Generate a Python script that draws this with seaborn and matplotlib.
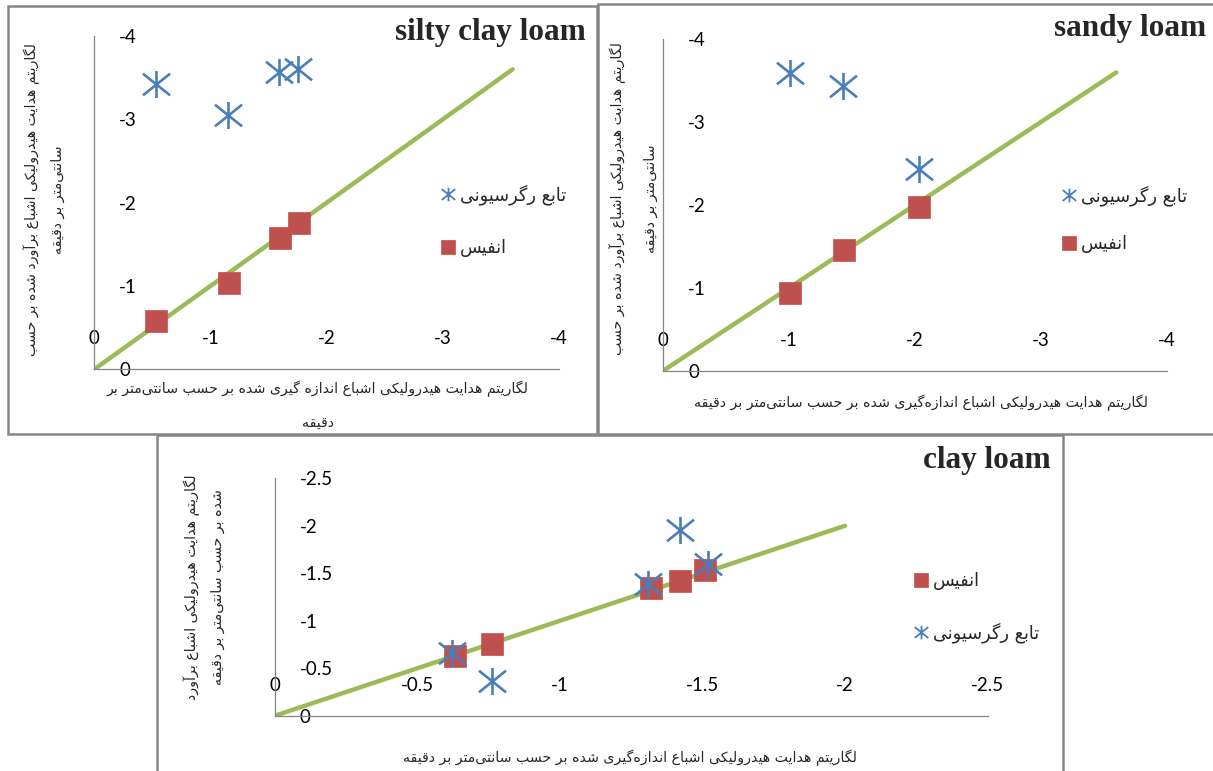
import matplotlib
matplotlib.use("Agg")
import matplotlib.pyplot as plt
import seaborn as sns
from matplotlib.path import Path
from matplotlib.patches import Rectangle

# ------------------------------------------------------------------ data
# silty clay loam
scl_anfis_x = [-0.53, -1.16, -1.60, -1.76]
scl_anfis_y = [-0.58, -1.04, -1.58, -1.75]
scl_reg_x = [-0.53, -1.15, -1.59, -1.75]
scl_reg_y = [-3.42, -3.05, -3.57, -3.60]
scl_line_x = [0.0, -3.6]
scl_line_y = [0.0, -3.6]

# sandy loam
sl_anfis_x = [-1.01, -1.44, -2.03]
sl_anfis_y = [-0.94, -1.46, -1.97]
sl_reg_x = [-1.01, -1.43, -2.03]
sl_reg_y = [-3.59, -3.44, -2.44]
sl_line_x = [0.0, -3.6]
sl_line_y = [0.0, -3.6]

# clay loam
cl_anfis_x = [-0.63, -0.76, -1.32, -1.42, -1.51]
cl_anfis_y = [-0.63, -0.76, -1.34, -1.42, -1.53]
cl_reg_x = [-0.62, -0.76, -1.31, -1.42, -1.52]
cl_reg_y = [-0.66, -0.37, -1.39, -1.96, -1.60]
cl_line_x = [0.0, -2.0]
cl_line_y = [0.0, -2.0]

ticks_4 = [0, -1, -2, -3, -4]
tick_labels_4 = ["0", "-1", "-2", "-3", "-4"]
ticks_25 = [0, -0.5, -1, -1.5, -2, -2.5]
tick_labels_25 = ["0", "-0.5", "-1", "-1.5", "-2", "-2.5"]

titles = ["silty clay loam", "sandy loam", "clay loam"]
label_anfis = "انفیس"
label_reg = "تابع رگرسیونی"
ylab_1 = "لگاریتم هدایت هیدرولیکی اشباع برآورد شده بر حسب\nسانتی\u200cمتر بر دقیقه"
xlab_1 = "لگاریتم هدایت هیدرولیکی اشباع اندازه گیری شده بر حسب سانتی\u200cمتر بر\nدقیقه"
ylab_2 = "لگاریتم هدایت هیدرولیکی اشباع برآورد شده بر حسب\nسانتی\u200cمتر بر دقیقه"
xlab_2 = "لگاریتم هدایت هیدرولیکی اشباع اندازه\u200cگیری شده بر حسب سانتی\u200cمتر بر دقیقه"
ylab_3 = "لگاریتم هدایت هیدرولیکی اشباع برآورد\nشده بر حسب سانتی\u200cمتر بر دقیقه"
xlab_3 = "لگاریتم هدایت هیدرولیکی اشباع اندازه\u200cگیری شده بر حسب سانتی\u200cمتر بر دقیقه"

# ------------------------------------------------- Persian shaping (RTL)
FORMS = {
    '\u0627': ('\uFE8D', '\uFE8E', None, None),
    '\u0622': ('\uFE81', '\uFE82', None, None),
    '\u0628': ('\uFE8F', '\uFE90', '\uFE91', '\uFE92'),
    '\u067E': ('\uFB56', '\uFB57', '\uFB58', '\uFB59'),
    '\u062A': ('\uFE95', '\uFE96', '\uFE97', '\uFE98'),
    '\u062D': ('\uFEA1', '\uFEA2', '\uFEA3', '\uFEA4'),
    '\u062F': ('\uFEA9', '\uFEAA', None, None),
    '\u0631': ('\uFEAD', '\uFEAE', None, None),
    '\u0632': ('\uFEAF', '\uFEB0', None, None),
    '\u0633': ('\uFEB1', '\uFEB2', '\uFEB3', '\uFEB4'),
    '\u0634': ('\uFEB5', '\uFEB6', '\uFEB7', '\uFEB8'),
    '\u0639': ('\uFEC9', '\uFECA', '\uFECB', '\uFECC'),
    '\u0641': ('\uFED1', '\uFED2', '\uFED3', '\uFED4'),
    '\u0642': ('\uFED5', '\uFED6', '\uFED7', '\uFED8'),
    '\u0643': ('\uFED9', '\uFEDA', '\uFEDB', '\uFEDC'),
    '\u0644': ('\uFEDD', '\uFEDE', '\uFEDF', '\uFEE0'),
    '\u0645': ('\uFEE1', '\uFEE2', '\uFEE3', '\uFEE4'),
    '\u0646': ('\uFEE5', '\uFEE6', '\uFEE7', '\uFEE8'),
    '\u0647': ('\uFEE9', '\uFEEA', '\uFEEB', '\uFEEC'),
    '\u0648': ('\uFEED', '\uFEEE', None, None),
    '\u064A': ('\uFEF1', '\uFEF2', '\uFEF3', '\uFEF4'),
    '\u06A9': ('\uFB8E', '\uFB8F', '\uFB90', '\uFB91'),
    '\u06AF': ('\uFB92', '\uFB93', '\uFB94', '\uFB95'),
    '\u06CC': ('\uFBFC', '\uFBFD', '\uFBFE', '\uFBFF'),
}


def shape_line(line):
    out = []
    n = len(line)
    for i, c in enumerate(line):
        if c not in FORMS:
            if c != '\u200c':
                out.append(c)
            continue
        prev = line[i - 1] if i > 0 else None
        nxt = line[i + 1] if i < n - 1 else None
        jp = prev in FORMS and FORMS[prev][2] is not None
        jn = FORMS[c][2] is not None and nxt in FORMS
        iso, fin, ini, med = FORMS[c]
        if jp and jn:
            out.append(med)
        elif jp:
            out.append(fin)
        elif jn:
            out.append(ini)
        else:
            out.append(iso)
    return ''.join(reversed(out))


def fa(text):
    return '\n'.join(shape_line(l) for l in text.split('\n'))


# ------------------------------------------------------------ style
sns.set_style("white")
plt.rcParams['font.family'] = ['Lato', 'DejaVu Sans']
plt.rcParams['axes.unicode_minus'] = False

W, H = 1213, 771
fig = plt.figure(figsize=(W / 100, H / 100), dpi=100)
fig.patch.set_facecolor('white')

BLUE = '#4A7EBB'
RED = '#C0504D'
GREEN = '#9BBB59'
GRAY = '#868686'
FA_FONT = 'DejaVu Sans'

AST = Path([(0, -1), (0, 1), (-1, -0.8), (1, 0.8), (-1, 0.8), (1, -0.8)],
           [Path.MOVETO, Path.LINETO, Path.MOVETO, Path.LINETO, Path.MOVETO, Path.LINETO])


def fx(x):
    return x / W


def fy(y):
    return 1 - y / H


# panel frames
for (l, t, r, b) in [(8, 6, 597, 434), (598, 4, 1225, 434), (157, 435, 1063, 780)]:
    fig.add_artist(Rectangle((fx(l), fy(b)), (r - l) / W, (b - t) / H,
                             transform=fig.transFigure, fill=False,
                             edgecolor=GRAY, linewidth=1.8, zorder=0))


def make_panel(box, lim, ticks, tick_labels, rx, ry, ax_x, ax_y, ln_x, ln_y,
               title, title_pos, xlab, xlab_pos, xlab_ls, ylab, ylab_pos, ylab_ls,
               leg_anchor, leg_spacing, reg_first):
    l, t, r, b = box
    ax = fig.add_axes([fx(l), fy(b), (r - l) / W, (b - t) / H])
    ax.set_facecolor('none')
    sns.lineplot(x=ln_x, y=ln_y, ax=ax, color=GREEN, linewidth=3.2,
                 solid_capstyle='round', zorder=2)
    sns.scatterplot(x=ax_x, y=ax_y, ax=ax, marker='s', s=235, color=RED,
                    edgecolor=RED, linewidth=0.5, label=fa(label_anfis), zorder=3)
    sns.scatterplot(x=rx, y=ry, ax=ax, marker=AST, s=380, color=BLUE,
                    edgecolor=BLUE, linewidth=1.9, label=fa(label_reg), zorder=4)
    ax.set_xlim(0, lim)
    ax.set_ylim(0, lim)
    ax.set_xticks(ticks)
    ax.set_xticklabels(tick_labels)
    ax.set_yticks(ticks)
    ax.set_yticklabels(tick_labels)
    for s in ['top', 'right']:
        ax.spines[s].set_visible(False)
    for s in ['left', 'bottom']:
        ax.spines[s].set_color(GRAY)
        ax.spines[s].set_linewidth(0.9)
    ax.tick_params(axis='both', direction='in', length=6, width=0.9, color=GRAY,
                   labelsize=13.5, labelcolor='black')
    ax.tick_params(axis='x', pad=-28)
    ax.tick_params(axis='y', pad=-18)
    plt.setp(ax.get_yticklabels(), ha='left')
    ax.set_xlabel('')
    ax.set_ylabel('')

    h, lab = ax.get_legend_handles_labels()
    if reg_first:
        h, lab = h[::-1], lab[::-1]
    leg = ax.legend(h, lab, loc='upper left',
                    bbox_to_anchor=(fx(leg_anchor[0]), fy(leg_anchor[1])),
                    bbox_transform=fig.transFigure, frameon=False, borderpad=0,
                    borderaxespad=0, handlelength=0.8, handletextpad=0.25,
                    labelspacing=leg_spacing, scatteryoffsets=[0.5],
                    prop={'family': FA_FONT, 'size': 12.8})
    for hd, lb in zip(leg.legend_handles, lab):
        if lb == fa(label_reg):
            hd.set_sizes([95])
            hd.set_linewidth(1.3)
        else:
            hd.set_sizes([100])

    fig.text(fx(title_pos[0]), fy(title_pos[1]), title, ha='right', va='baseline',
             family='Liberation Serif', weight='bold', fontsize=22.5)
    fig.text(fx(xlab_pos[0]), fy(xlab_pos[1]), fa(xlab), ha='center', va='center',
             multialignment='center', family=FA_FONT, fontsize=10.15, linespacing=xlab_ls)
    fig.text(fx(ylab_pos[0]), fy(ylab_pos[1]), fa(ylab), ha='center', va='center',
             rotation=90, multialignment='center', family=FA_FONT, fontsize=10.15,
             linespacing=ylab_ls)
    return ax


make_panel((94.3, 36.0, 559.1, 369.3), -4, ticks_4, tick_labels_4,
           scl_reg_x, scl_reg_y, scl_anfis_x, scl_anfis_y, scl_line_x, scl_line_y,
           titles[0], (585.5, 40), xlab_1, (318, 405), 2.75, ylab_1, (44.5, 199.5), 2.0,
           (441, 184), 1.95, True)
make_panel((663.3, 39.3, 1166.5, 370.7), -4, ticks_4, tick_labels_4,
           sl_reg_x, sl_reg_y, sl_anfis_x, sl_anfis_y, sl_line_x, sl_line_y,
           titles[1], (1206, 36), xlab_2, (921.5, 403), 1.2, ylab_2, (634, 198.5), 2.6,
           (1062, 185), 1.65, True)
make_panel((275.0, 478.3, 987.5, 715.7), -2.5, ticks_25, tick_labels_25,
           cl_reg_x, cl_reg_y, cl_anfis_x, cl_anfis_y, cl_line_x, cl_line_y,
           titles[2], (1050.7, 468), xlab_3, (630, 758), 1.2, ylab_3, (204.5, 587), 2.0,
           (914, 572), 1.82, False)

fig.savefig('out.png', dpi=100, facecolor='white')
